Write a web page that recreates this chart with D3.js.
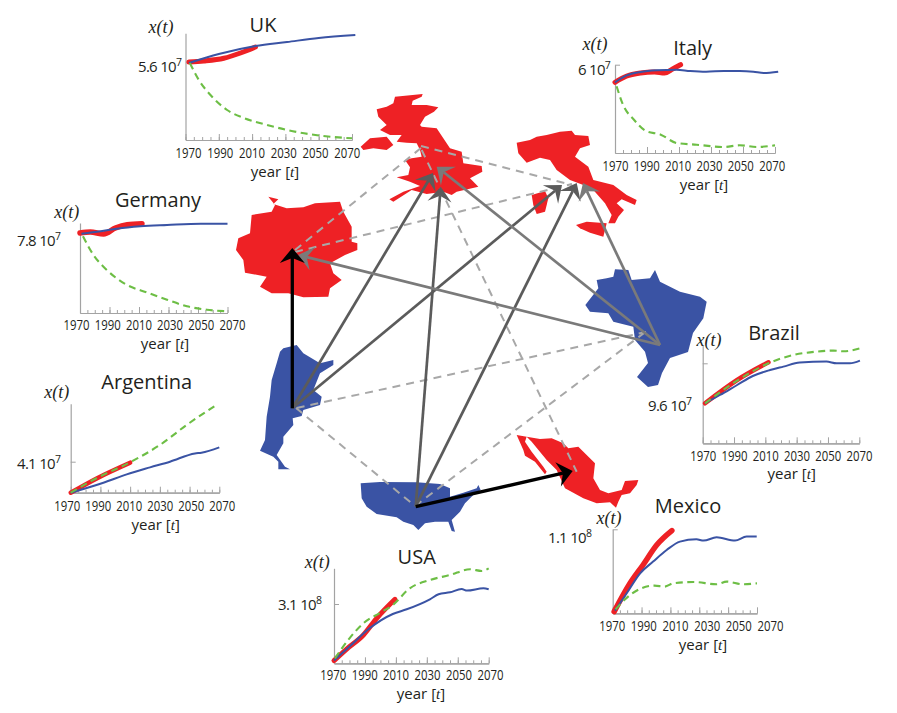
<!DOCTYPE html>
<html><head><meta charset="utf-8">
<style>
html,body{margin:0;padding:0;background:#fff}
svg{display:block}
text{font-family:"Open Sans","Noto Sans",sans-serif;fill:#231f20}
.xt{font-family:"Liberation Serif",serif;font-style:italic;font-size:18px}
.ttl{font-size:20px;text-anchor:middle}
.yr{font-size:15px;text-anchor:middle}
.yl{font-size:15px;letter-spacing:-0.7px}
</style></head><body>
<svg id="c" width="897" height="713"></svg>
<script src="https://cdn.jsdelivr.net/npm/d3@7/dist/d3.min.js"></script>
<script>
// ---- series: [year, relative population level] ----
const majorYears=[1970,1990,2010,2030,2050,2070];
const minorYears=d3.range(1970,2071,5);

const ukReal=[[1972,78],[1981,79],[1993,81.7],[2003,87],[2012,93]];
const ukModel=[[1972,77],[1990,86],[2012,94],[2031,98],[2050,102],[2072,105]];
const ukAlt=[[1972.6,77],[1978,60],[1985,45],[1995,30],[2005,22],[2017,16],[2031,10],[2045,5.7],[2057,3.3],[2070,1.7]];

const italyReal=[[1970,70.7],[1977,76.7],[1986,80],[1994.6,81],[2001,80],[2006,84],[2011,88.3]];
const italyModel=[[1970,70.7],[1977,77.3],[1986,81],[1996,82.7],[2008.5,83.3],[2017,82],[2027,81.3],[2038,82],[2048,82],[2056.5,81.3],[2063,80],[2072,81.3]];
const italyAlt=[[1971,66.7],[1975,48.3],[1982,33],[1989,22.3],[1998.6,18.3],[2008.5,10],[2021,8.3],[2038,6],[2048,7.7],[2058.5,6],[2070,7.7]];

const germanyReal=[[1970,80],[1977,81],[1986,79],[1994,85],[2002,88.3],[2012,89.3]];
const germanyModel=[[1971,79.3],[1984,81.7],[1995,84.3],[2011,86.7],[2029,88],[2052,89.3],[2070,89.3]];
const germanyAlt=[[1972,76.7],[1979,58.3],[1988,43.3],[2001.5,28.3],[2015,20.7],[2029,13.3],[2042.5,6.7],[2056,3.3],[2069.5,1.7]];

const argentinaReal=[[1970,0],[1987.5,14.3],[2010,30]];
const argentinaModel=[[1970,0],[1992,10],[2007.7,18.3],[2023.4,25.3],[2036.8,31],[2053.6,39.3],[2058,40],[2070,45.3]];
const argentinaAlt=[[1970,0],[1985,12.7],[2012,32],[2030,47.7],[2048,67.7],[2068,87.7]];

const brazilReal=[[1971.5,40],[1992,63.3],[2012,81]];
const brazilModel=[[1971.5,40],[1981,48.3],[1992,58.3],[2002,67.3],[2013,73.3],[2021.5,76.7],[2032,80.7],[2049,81.7],[2055.5,80],[2064,80],[2070.4,82.7]];
const brazilAlt=[[1971.5,40],[1992,62.7],[2012,80],[2028,88.3],[2043,91.7],[2053.5,92.7],[2060,92],[2070.4,95]];

const mexicoReal=[[1971,1.7],[1982,30],[1991,48.3],[2000.5,68.3],[2011,82.7]];
const mexicoModel=[[1971.6,2.7],[1979.7,20],[1989,40],[1998,51.7],[2007.4,63.3],[2016.6,71.7],[2028,74],[2033,72.7],[2042,76],[2054.8,72.7],[2062.8,76.7],[2069.8,76.7]];
const mexicoAlt=[[1972,4],[1982,18.3],[1999,27.7],[2006,26.7],[2012,30],[2026,31.3],[2042,29],[2049,31.7],[2060.5,29],[2070,30]];

const usaReal=[[1970,2.7],[1978,14],[1989,28.3],[1997.6,45],[2009.4,64]];
const usaModel=[[1970,2.7],[1980,16.7],[1993,35],[2008,49.3],[2017,54],[2032,64],[2037.6,69],[2045,71],[2052.5,74.3],[2056,72.7],[2066.6,75],[2070,74]];
const usaAlt=[[1970.6,5],[1980,25],[1989,40],[2000,50.7],[2008,58.3],[2019,75],[2032,83.3],[2045,88.3],[2058,94],[2065.5,92.3],[2070,95]];

// ---- country outlines ----
const ukOutline=[[495,50],[578,42],[575,50],[548,62],[545,75],[590,75],[625,82],[612,95],[585,110],[570,135],[575,140],[620,145],[640,175],[660,205],[695,215],[700,250],[755,258],[757,275],[720,295],[745,320],[680,335],[665,345],[640,335],[590,342],[545,330],[490,365],[478,358],[520,335],[570,318],[540,305],[500,292],[535,285],[540,262],[525,240],[545,235],[575,230],[570,210],[560,190],[530,188],[500,185],[515,165],[480,165],[450,150],[470,135],[445,110],[440,88],[470,80],[490,70]];
const irelandOutline=[[392,200],[420,175],[470,170],[490,195],[470,210],[430,205],[400,210]];
const germanyOutline=[[115,350],[145,358],[130,372],[170,385],[220,382],[255,370],[330,365],[340,395],[365,440],[365,485],[382,490],[382,510],[345,525],[300,550],[310,580],[335,600],[300,625],[295,650],[220,652],[175,640],[125,640],[90,620],[110,590],[45,578],[40,540],[18,510],[25,475],[60,460],[65,405],[125,395],[135,375]];
const italyOutline=[[110,98],[150,90],[170,80],[200,75],[240,65],[275,62],[285,75],[325,78],[330,105],[300,115],[285,140],[325,170],[340,210],[400,225],[440,255],[470,270],[465,285],[425,268],[410,280],[432,300],[415,320],[405,340],[385,340],[395,315],[375,280],[340,240],[310,225],[270,210],[230,180],[210,150],[180,143],[140,158],[115,130]];
const sicilyOutline=[[288,345],[320,335],[380,340],[370,380],[330,368],[300,355]];
const sardiniaOutline=[[155,255],[195,243],[205,265],[195,305],[170,312],[160,285]];
const brazilOutline=[[350,510],[380,505],[400,500],[405,478],[445,480],[455,510],[510,505],[525,480],[540,515],[600,545],[660,560],[680,575],[670,625],[639,669],[624,726],[570,744],[546,789],[534,825],[504,831],[471,801],[504,759],[495,725],[465,690],[460,650],[400,635],[385,610],[330,605],[316,585],[355,535]];
const argentinaOutline=[[130,55],[170,45],[190,70],[240,100],[280,90],[280,105],[240,130],[220,180],[245,200],[240,225],[190,240],[185,258],[158,265],[160,285],[130,320],[130,340],[110,375],[135,410],[150,418],[115,418],[115,395],[100,380],[60,362],[75,330],[80,260],[90,200],[95,150],[110,100],[120,65]];
const usaOutline=[[32,40],[90,36],[200,37],[270,42],[300,55],[300,80],[340,68],[380,55],[385,45],[392,60],[370,75],[345,100],[330,125],[305,150],[315,185],[305,183],[295,155],[255,155],[225,160],[205,180],[190,165],[160,155],[140,142],[80,132],[50,110],[35,85]];
const mexicoOutline=[[50,35],[90,42],[125,40],[160,55],[175,70],[205,65],[230,90],[255,115],[250,160],[270,195],[295,205],[335,195],[345,168],[385,165],[380,180],[360,205],[335,210],[325,230],[318,248],[300,232],[260,235],[220,220],[165,190],[140,135],[110,105],[65,50]];
const bajaOutline=[[20,30],[50,35],[45,50],[65,80],[100,125],[110,140],[105,148],[75,110],[45,92],[40,75]];

// ---- network ----
const nodes={argentina:[292.3,408.3],usa:[415.7,506.7],brazil:[660,345]};
const solidLinks=[
 {from:"argentina",to:[433,173],tone:"dark"},
 {from:"usa",to:[440.7,186.7],tone:"dark"},
 {from:"argentina",to:[562,185],tone:"dark"},
 {from:"usa",to:[576.7,183],tone:"dark"},
 {from:"brazil",to:[298,255],tone:"mid"},
 {from:"brazil",to:[436.7,166.7],tone:"mid"},
 {from:"brazil",to:[583,183],tone:"mid"},
 {from:"argentina",to:[292.3,248],tone:"black"},
 {from:"usa",to:[572.7,471],tone:"black"}
];
const dashedLinks=[
 [[295,250],[421,148]],[[295,252],[572,184]],[[421,146],[572,185]],
 [[421.7,150],[576.7,471.7]],[[296.7,408],[646,332]],[[296,408],[415,506]],[[415,506],[648,330]]
];

// ---- chart layout ----
const charts=[
 {name:"UK",real:ukReal,model:ukModel,alt:ukAlt,ax:185.5,axEnd:352,base:140,top:106.7,tick:null,labA:188,labB:346.7,labY:153,
  yrX:275,yrY:172,tX:263,tY:25,xtX:161,xtY:28,ylab:"5.6 10",sup:"7",ylX:138,ylY:66,redW:5},
 {name:"Italy",real:italyReal,model:italyModel,alt:italyAlt,ax:615,axEnd:775,base:153,top:88.3,tick:88.3,labA:615,labB:771.7,labY:166,
  yrX:704,yrY:185,tX:692.7,tY:48,xtX:595,xtY:45,ylab:"6 10",sup:"7",ylX:578,ylY:69,redW:5},
 {name:"Germany",real:germanyReal,model:germanyModel,alt:germanyAlt,ax:80,axEnd:227.5,base:313,top:90,tick:null,labA:76,labB:232,labY:325,
  yrX:165,yrY:344,tX:158,tY:200,xtX:66.7,xtY:212.7,ylab:"7.8 10",sup:"7",ylX:17,ylY:240,redW:5.5},
 {name:"Argentina",real:argentinaReal,model:argentinaModel,alt:argentinaAlt,ax:70.7,axEnd:219.3,base:492.7,top:89,tick:31,labA:66.7,labB:221.7,labY:506,
  yrX:155.7,yrY:525,tX:146.7,tY:382,xtX:56.7,xtY:393,ylab:"4.1 10",sup:"7",ylX:17,ylY:463,redW:4.5},
 {name:"Brazil",real:brazilReal,model:brazilModel,alt:brazilAlt,ax:702.7,axEnd:859.3,base:443.3,top:98,tick:80,labA:702.7,labB:859,labY:455.7,
  yrX:791.7,yrY:474,tX:774,tY:332.7,xtX:709,xtY:340.7,ylab:"9.6 10",sup:"7",ylX:648,ylY:405,redW:4.5},
 {name:"Mexico",real:mexicoReal,model:mexicoModel,alt:mexicoAlt,ax:612.7,axEnd:757,base:613.3,top:84,tick:84,labA:611.7,labB:770,labY:626,
  yrX:703,yrY:645,tX:688,tY:506,xtX:609,xtY:519,ylab:"1.1 10",sup:"8",ylX:548,ylY:537,redW:5.5},
 {name:"USA",real:usaReal,model:usaModel,alt:usaAlt,ax:334,axEnd:488.7,base:663.3,top:95,tick:59.3,labA:332.7,labB:490,labY:675,
  yrX:421,yrY:694,tX:416.7,tY:557,xtX:317.3,xtY:563,ylab:"3.1 10",sup:"8",ylX:278,ylY:604,redW:5}
];

const svg=d3.select("#c");
const RED="#ee2125",BLUE="#3a53a4",GREEN="#6dbe45";

// ---- maps ----
const mapScale=d3.scaleLinear().domain([0,3]).range([0,1]);
const maps=[
 {o:[ukOutline,irelandOutline,germanyOutline],x:230,y:80,f:RED},
 {o:[italyOutline,sicilyOutline,sardiniaOutline],x:480,y:110,f:RED},
 {o:[brazilOutline],x:480,y:110,f:BLUE},
 {o:[argentinaOutline],x:240,y:330,f:BLUE},
 {o:[usaOutline],x:350,y:470,f:BLUE},
 {o:[mexicoOutline,bajaOutline],x:510,y:425,f:RED}
];
const mapG=svg.append("g");
maps.forEach(m=>{
  const line=d3.line().x(d=>m.x+mapScale(d[0])).y(d=>m.y+mapScale(d[1])).curve(d3.curveLinearClosed);
  mapG.append("g").selectAll("path").data(m.o).join("path").attr("d",line).attr("fill",m.f);
});

// ---- links ----
svg.append("g").selectAll("line").data(dashedLinks).join("line")
 .attr("x1",d=>d[0][0]).attr("y1",d=>d[0][1]).attr("x2",d=>d[1][0]).attr("y2",d=>d[1][1])
 .attr("stroke","#a8a8a8").attr("stroke-width",2).attr("stroke-dasharray","8,6");

const tone={dark:"#5b5b5b",mid:"#7a7a7a",black:"#000"};
const arrows=svg.append("g");
solidLinks.forEach(l=>{
  const a=nodes[l.from],b=l.to,ang=Math.atan2(b[1]-a[1],b[0]-a[0]),c=Math.cos(ang),s=Math.sin(ang);
  const big=l.tone==="black";
  const len=15,hw=big?12.5:12,notch=big?10:9;
  const p=(back,side)=>[b[0]-c*back-s*side,b[1]-s*back+c*side];
  const n=p(notch,0);
  arrows.append("line").attr("x1",a[0]).attr("y1",a[1]).attr("x2",n[0]).attr("y2",n[1])
    .attr("stroke",tone[l.tone]).attr("stroke-width",big?3.3:2.7);
  arrows.append("path").attr("d",d3.line()([b,p(len,hw),n,p(len,-hw)])+"Z").attr("fill",tone[l.tone]);
});

// ---- inset charts ----
charts.forEach(c=>{
  const g=svg.append("g");
  const x=d3.scaleLinear().domain([1970,2070]).range([c.ax,c.axEnd]);
  const y=d3.scaleLinear().domain([0,c.top]).range([c.base,c.base-c.top]);
  const lab=d3.scaleLinear().domain([1970,2070]).range([c.labA,c.labB]);

  g.append("g").attr("transform",`translate(0,${c.base})`)
   .call(d3.axisBottom(x).tickValues(minorYears).tickSize(-3).tickSizeOuter(0).tickFormat(""));
  g.append("g").attr("transform",`translate(0,${c.base})`)
   .call(d3.axisBottom(x).tickValues(majorYears).tickSize(-6).tickSizeOuter(0).tickFormat(""));
  g.append("g").attr("transform",`translate(${c.ax},0)`)
   .call(d3.axisRight(y).tickValues(c.tick===null?[]:[c.tick]).tickSize(5).tickSizeOuter(0).tickFormat(""));
  g.selectAll(".domain").attr("stroke","#a3a3a3").attr("stroke-width",1.2);
  g.selectAll(".tick line").attr("stroke","#a3a3a3");

  const ticks=g.append("g").attr("transform",`translate(0,${c.labY-5})`)
   .call(d3.axisBottom(lab).tickValues(majorYears).tickSize(0).tickPadding(0).tickFormat(d3.format("d")));
  ticks.select(".domain").remove();
  ticks.selectAll("text").style("font-family",'"Liberation Sans Narrow","Open Sans",sans-serif').style("font-size","15px")
    .attr("textLength",26).attr("lengthAdjust","spacingAndGlyphs")
    .attr("y",0).attr("dy","0.68em").style("fill","#231f20");

  const line=d3.line().x(d=>x(d[0])).y(d=>y(d[1])).curve(d3.curveMonotoneX);
  g.append("path").datum(c.real).attr("d",line).attr("fill","none").attr("stroke",RED).attr("stroke-width",c.redW).attr("stroke-linecap","round");
  g.append("path").datum(c.model).attr("d",line).attr("fill","none").attr("stroke",BLUE).attr("stroke-width",2);
  g.append("path").datum(c.alt).attr("d",line).attr("fill","none").attr("stroke",GREEN).attr("stroke-width",2.1).attr("stroke-dasharray","7,4.5");

  g.append("text").attr("class","ttl").attr("x",c.tX).attr("y",c.tY+7).text(c.name);
  g.append("text").attr("class","xt").attr("x",c.xtX).attr("y",c.xtY+5).attr("text-anchor","middle").text("x(t)");
  const yr=g.append("text").attr("class","yr").attr("x",c.yrX).attr("y",c.yrY+5);
  yr.append("tspan").text("year [");
  yr.append("tspan").style("font-family","Liberation Serif, serif").style("font-style","italic").text("t");
  yr.append("tspan").text("]");
  const yl=g.append("text").attr("class","yl").attr("x",c.ylX).attr("y",c.ylY+5.5).text(c.ylab);
  yl.append("tspan").attr("dy",-5.5).style("font-size","10.5px").text(c.sup);
});
</script>
</body></html>
